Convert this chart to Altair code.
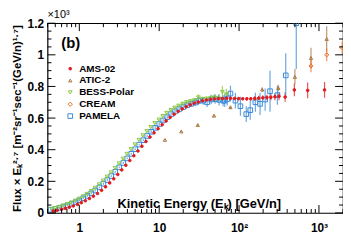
import altair as alt
import pandas as pd

SERIES = ["AMS-02", "ATIC-2", "BESS-Polar", "CREAM", "PAMELA"]
COLORS = ["#e3191c", "#a8743c", "#8cc83c", "#e8702a", "#3a8ad8"]
FILLS = ["#e3191c", "transparent", "transparent", "transparent", "transparent"]
SHAPES = ["circle", "triangle-up", "triangle-down", "diamond", "square"]
SIZES = [7, 22, 22, 20, 18]

ams_e = [0.47, 0.53, 0.6, 0.67, 0.75, 0.84, 0.95, 1.06, 1.19, 1.34, 1.5, 1.69, 1.9, 2.13, 2.4, 2.7,
         3.03, 3.4, 3.82, 4.29, 4.82, 5.42, 6.08, 6.83, 7.67, 8.62, 9.68, 10.9, 12.2, 13.7, 15.4,
         17.3, 19.4, 21.8, 24.5, 27.5, 30.9, 34.7, 39, 43.8, 49.2, 55.2, 62, 69.7, 78.3, 87.9,
         98.7, 111, 125, 140, 157, 176, 198, 223, 250, 281, 316, 377, 492, 722, 1175]
ams_f = [0.012, 0.017, 0.023, 0.029, 0.036, 0.044, 0.054, 0.065, 0.077, 0.091, 0.106, 0.123,
         0.143, 0.165, 0.19, 0.216, 0.243, 0.272, 0.302, 0.332, 0.362, 0.392, 0.422, 0.452,
         0.48, 0.507, 0.533, 0.558, 0.582, 0.604, 0.624, 0.642, 0.658, 0.672, 0.684, 0.694,
         0.702, 0.709, 0.714, 0.718, 0.721, 0.723, 0.724, 0.725, 0.725, 0.724, 0.723, 0.722,
         0.722, 0.722, 0.724, 0.726, 0.728, 0.73, 0.732, 0.735, 0.738, 0.733, 0.778, 0.775, 0.778]
ams_err = [0.003] * 30 + [0.005] * 15 + [0.008, 0.01, 0.01, 0.012, 0.012, 0.014, 0.015, 0.016,
                                          0.018, 0.02, 0.022, 0.025, 0.03, 0.04, 0.05, 0.05]

atic_e = [11.8, 18.9, 30.4, 48.5, 78, 195, 310, 500, 795, 1250]
atic_f = [0.462, 0.515, 0.556, 0.615, 0.668, 0.78, 0.79, 0.86, 0.98, 1.10]
atic_err = [0.004, 0.005, 0.006, 0.008, 0.01, 0.015, 0.02, 0.05, 0.065, 0.08]

bess_e = [0.45, 0.5, 0.56, 0.63, 0.71, 0.79, 0.89, 1.0, 1.12, 1.25, 1.41, 1.58, 1.77, 1.99,
          2.23, 2.5, 2.8, 3.14, 3.52, 3.95, 4.43, 4.97, 5.57, 6.25, 7.0, 7.86, 8.8, 9.9, 11.1,
          12.4, 14, 15.6, 17.5, 19.7, 22, 24.7, 27.7, 31, 34.8, 39, 43.8, 49.1, 55.1, 61.8, 69.3]
bess_f = [0.025, 0.031, 0.038, 0.046, 0.055, 0.065, 0.077, 0.09, 0.105, 0.12, 0.138, 0.158,
          0.18, 0.204, 0.229, 0.256, 0.284, 0.313, 0.343, 0.373, 0.403, 0.433, 0.462, 0.49,
          0.517, 0.543, 0.568, 0.59, 0.612, 0.632, 0.65, 0.665, 0.678, 0.69, 0.7, 0.706, 0.712,
          0.73, 0.72, 0.722, 0.725, 0.73, 0.725, 0.765, 0.75]
bess_err = [0.004] * 30 + [0.008, 0.008, 0.01, 0.01, 0.012, 0.012, 0.014, 0.02, 0.015, 0.015,
                           0.018, 0.02, 0.025, 0.04, 0.035]

cream_e = [795, 1250, 1950]
cream_f = [0.93, 1.0, 1.045]
cream_err = [0.04, 0.04, 0.04]

pam_e = [0.44, 0.5, 0.56, 0.63, 0.71, 0.8, 0.9, 1.0, 1.12, 1.26, 1.41, 1.58, 1.78, 2.0, 2.24,
         2.51, 2.82, 3.16, 3.55, 3.98, 4.47, 5.01, 5.62, 6.31, 7.08, 7.94, 8.91, 10.0, 11.2,
         12.6, 14.1, 15.8, 17.8, 20.0, 22.4, 25.1, 28.2, 31, 35.5, 39.8, 44.7, 50.1, 56.2, 63.1,
         66, 71, 78, 90, 104, 123, 138, 160, 183, 212, 244, 302, 384, 520]
pam_f = [0.02, 0.026, 0.032, 0.04, 0.048, 0.058, 0.068, 0.08, 0.093, 0.108, 0.124, 0.142, 0.162,
         0.185, 0.208, 0.233, 0.26, 0.288, 0.316, 0.345, 0.374, 0.403, 0.432, 0.46, 0.487,
         0.513, 0.538, 0.562, 0.585, 0.606, 0.625, 0.642, 0.657, 0.67, 0.681, 0.69, 0.698, 0.708,
         0.71, 0.70, 0.717, 0.72, 0.715, 0.71, 0.71, 0.72, 0.755, 0.71, 0.675, 0.625, 0.65,
         0.70, 0.69, 0.717, 0.77, 0.745, 0.87, 1.2]
pam_err = ([0.006] * 25 + [0.01] * 10
           + [0.02, 0.02, 0.025, 0.025, 0.03, 0.03, 0.03, 0.035, 0.035, 0.04, 0.04, 0.05, 0.05]
           + [0.06, 0.05, 0.06, 0.06, 0.07, 0.07, 0.13, 0.06, 0.14, 0.29])

y_major = [0, 0.2, 0.4, 0.6, 0.8, 1.0, 1.2]
y_minor = [0.05, 0.1, 0.15, 0.25, 0.3, 0.35, 0.45, 0.5, 0.55, 0.65, 0.7, 0.75, 0.85, 0.9, 0.95,
           1.05, 1.1, 1.15]
x_major = [1, 10, 100, 1000]
x_minor = [0.4, 0.5, 0.6, 0.7, 0.8, 0.9, 2, 3, 4, 5, 6, 7, 8, 9, 20, 30, 40, 50, 60, 70, 80, 90,
           200, 300, 400, 500, 600, 700, 800, 900, 2000]

frames = []
for name, e, f, err in [("AMS-02", ams_e, ams_f, ams_err), ("ATIC-2", atic_e, atic_f, atic_err),
                        ("BESS-Polar", bess_e, bess_f, bess_err), ("CREAM", cream_e, cream_f, cream_err),
                        ("PAMELA", pam_e, pam_f, pam_err)]:
    d = pd.DataFrame({"E": e, "F": f, "err": err})
    d["series"] = name
    frames.append(d)
df = pd.concat(frames, ignore_index=True)
df["lo"] = df["F"] - df["err"]
df["hi"] = df["F"] + df["err"]
df["order"] = df["series"].map({"PAMELA": 0, "BESS-Polar": 1, "ATIC-2": 2, "CREAM": 3, "AMS-02": 4})

W, H = 299, 192
FONT = "Liberation Sans"

xs = alt.Scale(type="log", domain=[0.4, 2000], nice=False)
ys = alt.Scale(domain=[0, 1.2], nice=False, zero=False)

xaxis = alt.Axis(values=x_major, ticks=False, tickSize=0, grid=False, domain=False,
                 labelExpr="datum.value == 1 ? '1' : datum.value == 10 ? '10' : datum.value == 100 ? '10²' : '10³'",
                 labelPadding=10, labelFontSize=12,
                 title="Kinetic Energy (Eₖ)  [GeV/n]", titleX=153, titleY=-9,
                 titleBaseline="middle", titleFontSize=13)
yaxis = alt.Axis(values=y_major, ticks=False, tickSize=0, grid=False, domain=False,
                 labelExpr="format(datum.value, '.1~f')", labelPadding=4, labelFontSize=12,
                 title="Flux × Eₖ²·⁷ [m⁻²sr⁻¹sec⁻¹(GeV/n)¹·⁷]", titlePadding=5,
                 titleFontSize=11.5)

base = alt.Chart(df)

err_layers = []
for name, col in zip(SERIES, COLORS):
    err_layers.append(
        base.transform_filter(alt.datum.series == name)
        .mark_rule(strokeWidth=1.2, opacity=0.75, clip=True, color=col)
        .encode(x=alt.X("E:Q", scale=xs, axis=xaxis),
                y=alt.Y("lo:Q", scale=ys, axis=yaxis),
                y2="hi:Q")
    )

leg = alt.Legend(title=None)
points = base.mark_point(filled=False, strokeWidth=1, opacity=1, clip=True).encode(
    x=alt.X("E:Q", scale=xs, axis=xaxis),
    y=alt.Y("F:Q", scale=ys, axis=yaxis),
    color=alt.Color("series:N", scale=alt.Scale(domain=SERIES, range=COLORS), legend=leg),
    fill=alt.Fill("series:N", scale=alt.Scale(domain=SERIES, range=FILLS), legend=leg),
    shape=alt.Shape("series:N", scale=alt.Scale(domain=SERIES, range=SHAPES), legend=leg),
    size=alt.Size("series:N", scale=alt.Scale(domain=SERIES, range=SIZES), legend=leg),
    order=alt.Order("order:Q"),
)

ymaj = pd.DataFrame({"v": y_major})
ymin = pd.DataFrame({"v": y_minor})
xmaj = pd.DataFrame({"v": x_major})
xmin = pd.DataFrame({"v": x_minor})

def yticks(d, length):
    l = alt.Chart(d).mark_rule(color="black", strokeWidth=1).encode(
        y=alt.Y("v:Q", scale=ys, axis=yaxis), x=alt.value(0), x2=alt.value(length))
    r = alt.Chart(d).mark_rule(color="black", strokeWidth=1).encode(
        y=alt.Y("v:Q", scale=ys, axis=yaxis), x=alt.value(W - length), x2=alt.value(W))
    return [l, r]

def xticks(d, length):
    b = alt.Chart(d).mark_rule(color="black", strokeWidth=1).encode(
        x=alt.X("v:Q", scale=xs, axis=xaxis), y=alt.value(H), y2=alt.value(H - length))
    t = alt.Chart(d).mark_rule(color="black", strokeWidth=1).encode(
        x=alt.X("v:Q", scale=xs, axis=xaxis), y=alt.value(0), y2=alt.value(length))
    return [b, t]

tick_layers = yticks(ymaj, 8) + yticks(ymin, 4) + xticks(xmaj, 8) + xticks(xmin, 4)

label_b = alt.Chart(pd.DataFrame({"t": ["(b)"]})).mark_text(
    align="left", baseline="middle", fontSize=15, fontWeight="bold", font=FONT, color="black"
).encode(text="t:N", x=alt.value(14), y=alt.value(20))
label_exp = alt.Chart(pd.DataFrame({"t": ["×10³"]})).mark_text(
    align="left", baseline="middle", fontSize=11, font=FONT, color="black"
).encode(text="t:N", x=alt.value(0), y=alt.value(-8))

chart = alt.layer(*err_layers, points, *tick_layers, label_b, label_exp).properties(
    width=W, height=H,
    autosize=alt.AutoSizeParams(type="none"),
    padding={"left": 40, "top": 14, "right": 0, "bottom": 26},
).configure_view(stroke="black", strokeWidth=1.2).configure_axis(
    labelFont=FONT, labelFontWeight="bold", labelColor="black",
    titleFont=FONT, titleFontWeight="bold", titleColor="black",
).configure_legend(
    orient="none", legendX=18, legendY=41, labelFont=FONT, labelFontWeight="bold",
    labelFontSize=10, labelColor="black", rowPadding=2, labelOffset=4, symbolStrokeWidth=1,
)

chart.save("out.html", embed_options={"renderer": "svg", "actions": False})
